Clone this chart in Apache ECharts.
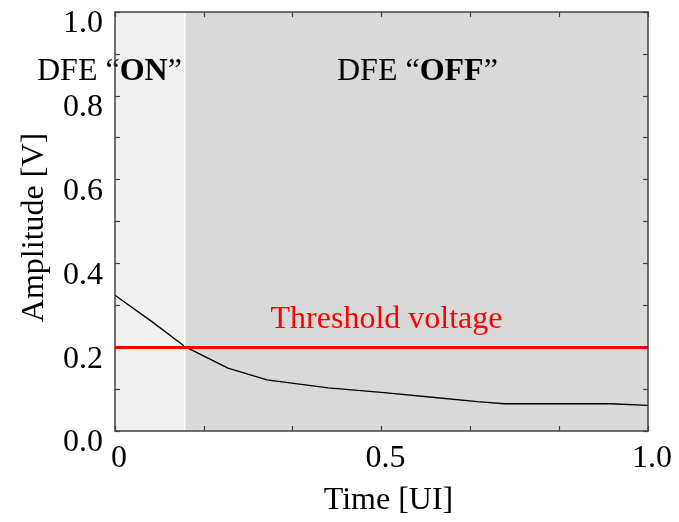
<!DOCTYPE html>
<html><head><meta charset="utf-8">
<script src="https://cdn.jsdelivr.net/npm/echarts@6/dist/echarts.min.js"></script>
<style>html,body{margin:0;padding:0;background:#fff}#c{width:679px;height:522px}</style>
</head><body><div id="c"></div>
<script>
const timeUI = [0, 0.066, 0.133, 0.212, 0.285, 0.4, 0.5, 0.6, 0.68, 0.73, 0.93, 1.0];
const amplitudeV = [0.324, 0.264, 0.2, 0.150, 0.122, 0.103, 0.092, 0.080, 0.070, 0.065, 0.065, 0.061];
const thresholdV = 0.2;
const dfeBoundary = 0.133;
const xTickLabels = {0: '0', 0.5: '0.5', 1: '1.0'};
const FONT = 'Liberation Serif';
const FS = 32;

const chart = echarts.init(document.getElementById('c'));
const tickStyle = {show: true, inside: true, length: 5, lineStyle: {color: '#404040', width: 1.2}};
const minorStyle = {show: true, length: 5, lineStyle: {color: '#404040', width: 1.2}};
const lineStyle = {color: '#404040', width: 1.5};
chart.setOption({
  animation: false,
  grid: {left: 115, top: 12, right: 31, bottom: 89, show: false},
  xAxis: [{
    type: 'value', min: 0, max: 1, interval: 0.5, position: 'bottom', z: 10,
    axisLine: {show: true, lineStyle: lineStyle, onZero: false},
    axisTick: tickStyle,
    minorTick: Object.assign({splitNumber: 3}, minorStyle),
    splitLine: {show: false},
    axisLabel: {fontFamily: FONT, fontSize: FS, color: '#000', margin: 12, padding: [0, 0, 0, 8],
      formatter: v => xTickLabels[v] !== undefined ? xTickLabels[v] : ''},
    name: 'Time [UI]', nameLocation: 'middle', nameGap: 54,
    nameTextStyle: {fontFamily: FONT, fontSize: FS, color: '#000', padding: [0, 0, 0, 14]}
  }, {
    type: 'value', min: 0, max: 1, interval: 0.5, position: 'top', z: 10,
    axisLine: {show: true, lineStyle: lineStyle, onZero: false},
    axisTick: tickStyle,
    minorTick: Object.assign({splitNumber: 3}, minorStyle),
    splitLine: {show: false}, axisLabel: {show: false}
  }],
  yAxis: [{
    type: 'value', min: 0, max: 1, interval: 0.2, position: 'left', z: 10,
    axisLine: {show: true, lineStyle: lineStyle, onZero: false},
    axisTick: tickStyle,
    minorTick: Object.assign({splitNumber: 2}, minorStyle),
    splitLine: {show: false},
    axisLabel: {fontFamily: FONT, fontSize: FS, color: '#000', margin: 12, verticalAlign: 'top',
      lineHeight: 24, formatter: v => v.toFixed(1)},
    name: 'Amplitude [V]', nameLocation: 'middle', nameGap: 64,
    nameTextStyle: {fontFamily: FONT, fontSize: FS, color: '#000', padding: [0, 12, 0, 0]}
  }, {
    type: 'value', min: 0, max: 1, interval: 0.2, position: 'right', z: 10,
    axisLine: {show: true, lineStyle: lineStyle, onZero: false},
    axisTick: tickStyle,
    minorTick: Object.assign({splitNumber: 2}, minorStyle),
    splitLine: {show: false}, axisLabel: {show: false}
  }],
  series: [{
    type: 'line', xAxisIndex: 0, yAxisIndex: 0, symbol: 'none', z: 3,
    data: timeUI.map((t, i) => [t, amplitudeV[i]]),
    lineStyle: {color: '#000', width: 1.3},
    markArea: {silent: true, z: 1, data: [
      [{xAxis: 0, itemStyle: {color: '#f0f0f0'}}, {xAxis: dfeBoundary}],
      [{xAxis: dfeBoundary, itemStyle: {color: '#d9d9d9'}}, {xAxis: 1}]
    ]},
    markLine: {silent: true, symbol: 'none', data: [
      {xAxis: dfeBoundary, lineStyle: {color: '#ffffff', width: 1.2, type: 'solid'}, label: {show: false}},
      {yAxis: thresholdV, lineStyle: {color: '#ff0000', width: 2.8, type: 'solid'},
        label: {show: true, position: 'insideMiddleTop', formatter: 'Threshold voltage', distance: 12,
          fontFamily: FONT, fontSize: FS, color: '#ff0000', padding: [0, 0, 0, 10]}}
    ]}
  }],
  graphic: [
    {type: 'text', left: 37, top: 56, z: 10, style: {
      text: 'DFE \u201c{b|ON}\u201d', fontFamily: FONT, fontSize: FS, fill: '#000',
      rich: {b: {fontFamily: FONT, fontSize: FS, fontWeight: 'bold', fill: '#000'}}}},
    {type: 'text', left: 337, top: 56, z: 10, style: {
      text: 'DFE \u201c{b|OFF}\u201d', fontFamily: FONT, fontSize: FS, fill: '#000',
      rich: {b: {fontFamily: FONT, fontSize: FS, fontWeight: 'bold', fill: '#000'}}}}
  ]
});
</script></body></html>
